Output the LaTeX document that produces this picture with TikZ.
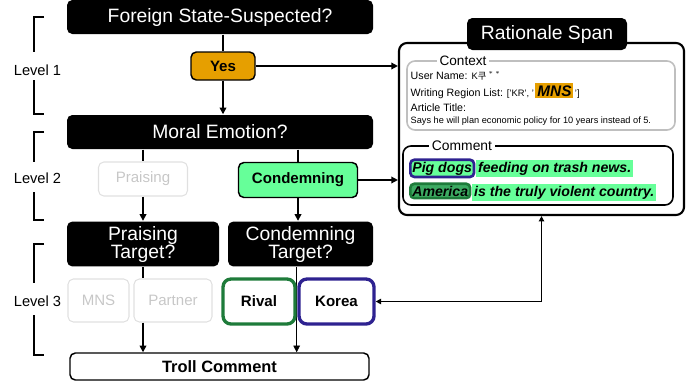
\documentclass[tikz,border=0pt]{standalone}
\usepackage{fontspec}
\setmainfont{Liberation Sans}
\newfontfamily\cjk{Noto Sans CJK KR}
\usetikzlibrary{positioning,arrows.meta,backgrounds}
\definecolor{yesorange}{HTML}{E69F00}
\definecolor{condgreen}{HTML}{66FF99}
\definecolor{rivalgreen}{HTML}{1E7B3A}
\definecolor{koreablue}{HTML}{2E2290}
\definecolor{amgreen}{HTML}{3DAA62}

\begin{document}
\begin{tikzpicture}[x=0.75pt, y=-0.75pt, line width=1.1pt, >={Triangle[length=5pt,width=5pt]},
  question/.style={fill=black, text=white, rounded corners=4pt, align=center, font=\fontsize{14.5}{13.5}\selectfont},
  answer/.style={draw=black, rounded corners=4pt, font=\fontsize{11.3}{13}\selectfont\bfseries},
  faded/.style={draw=black!12, text=black!22, rounded corners=4pt, line width=0.8pt, font=\fontsize{11.3}{13}\selectfont},
  level/.style={font=\fontsize{11}{13}\selectfont},
  ctx/.style={anchor=base west, inner sep=0pt, font=\fontsize{8}{10}\selectfont},
  hl/.style={fill=condgreen, inner sep=1.5pt, font=\fontsize{10.6}{13}\selectfont\bfseries\itshape}]
\useasboundingbox (0,0) rectangle (691,383);

% Level 1
\node[question, minimum width=229.5pt, minimum height=25.5pt] (q1) at (220,17) {Foreign State-Suspected?};
\node[answer, fill=yesorange, minimum width=48pt, minimum height=21pt] (yes) at (223,66) {Yes};

% Level 2
\node[question, minimum width=229.5pt, minimum height=25.5pt] (q2) at (220,132) {Moral Emotion?};
\node[faded, minimum width=66.75pt, minimum height=25.5pt] (praise) at (143,179) {Praising};
\node[answer, fill=condgreen, minimum width=89.25pt, minimum height=26.25pt] (condemn) at (298,180) {Condemning};

% Level 3
\node[question, minimum width=114pt, minimum height=33pt] (q3a) at (143,244) {Praising\\Target?};
\node[question, minimum width=108.75pt, minimum height=33pt] (q3b) at (300.5,244) {Condemning\\Target?};
\node[faded, minimum width=45.75pt, minimum height=32.25pt] (mns) at (98.5,300.5) {MNS};
\node[faded, minimum width=58.5pt, minimum height=32.25pt] (partner) at (173,300.5) {Partner};
\node[answer, draw=rivalgreen, line width=2.5pt, rounded corners=6pt, minimum width=54pt, minimum height=33.75pt] (rival) at (259,301.5) {Rival};
\node[answer, draw=koreablue, line width=2.5pt, rounded corners=6pt, minimum width=56.25pt, minimum height=33.75pt] (korea) at (336.5,301.5) {Korea};
\node[answer, fill=white, minimum width=224.25pt, minimum height=20.25pt, font=\fontsize{12.3}{14}\selectfont\bfseries] (troll) at (219.5,366.5) {Troll Comment};

% Level brackets
\node[level] (lv1) at (37.5,70) {Level 1};
\node[level] (lv2) at (37.5,178) {Level 2};
\node[level] (lv3) at (37.5,301) {Level 3};
\draw (44,17) -- (34,17) -- (34,52);
\draw (34,80) -- (34,114) -- (44,114);
\draw (44,132) -- (34,132) -- (34,162);
\draw (34,192) -- (34,220) -- (44,220);
\draw (44,244) -- (34,244) -- (34,283);
\draw (34,315) -- (34,355) -- (44,355);

% Rationale span
\node[draw=black, line width=1.6pt, rounded corners=6pt, minimum width=213.75pt, minimum height=129pt] (rationale) at (541.5,129) {};
\node[question, minimum width=120pt, minimum height=24pt] (title) at (547,34) {Rationale Span};
\node[draw=black!25, line width=1.2pt, rounded corners=6pt, minimum width=201pt, minimum height=51.75pt] (context) at (541,95.5) {};
\node[fill=white, inner sep=2pt, font=\fontsize{10.2}{12}\selectfont] (ctxlabel) at (463,61) {Context};
\node[draw=black, line width=1.2pt, rounded corners=6pt, minimum width=202.5pt, minimum height=44.25pt] (comment) at (538,175.5) {};
\node[fill=white, inner sep=2pt, font=\fontsize{10.4}{12}\selectfont] (cmtlabel) at (462,146) {Comment};

% Context text
\node[ctx] (user) at (410,79) {User Name: {\fontsize{7}{8}\selectfont K\cjk{쿠} $^{*\,*}$}};
\node[ctx] (region) at (410,96) {Writing Region List: {\fontsize{7}{8}\selectfont ['KR', '}};
\node[fill=yesorange, inner sep=1.5pt, anchor=base west, font=\fontsize{11.5}{13}\selectfont\bfseries\itshape] (mnshl) at (region.base east) {MNS};
\node[ctx, font=\fontsize{7}{8}\selectfont] (regend) at (mnshl.base east) {']};
\node[ctx] (article) at (410,111) {Article Title:};
\node[ctx, font=\fontsize{6.9}{8}\selectfont] (says) at (410,123) {Says he will plan economic policy for 10 years instead of 5.};

% Comment text
\node[hl, draw=koreablue, line width=2pt, rounded corners=3pt, anchor=base west] (pig) at (409,172) {Pig dogs};
\node[hl, anchor=base west] (line1) at (pig.base east) {feeding on trash news.};
\node[hl, fill=amgreen, draw=rivalgreen, line width=2pt, rounded corners=3pt, anchor=base west] (america) at (409,196) {America};
\node[hl, anchor=base west] (line2) at (america.base east) {is the truly violent country.};

% Arrows
\draw (yes.north |- q1.south) -- (yes.north);
\draw[->] (yes.south) -- (yes.south |- q2.north);
\draw[->] (yes.east) -- (yes.east -| rationale.west);
\draw (praise.north |- q2.south) -- (praise.north);
\draw[->] (praise.south) -- (praise.south |- q3a.north);
\draw (condemn.north |- q2.south) -- (condemn.north);
\draw[->] (condemn.south) -- (condemn.south |- q3b.north);
\draw[->] (condemn.east) -- (condemn.east -| rationale.west);
\draw (q3a.south) -- (q3a.south |- partner.north);
\draw[->] (q3a.south |- partner.south) -- (q3a.south |- troll.north);
\begin{scope}[on background layer]
\draw[->] (rival.east |- q3b.south) -- (rival.east |- troll.north);
\end{scope}
\draw[<->, >={Triangle[length=4pt,width=4pt]}] (korea.east) -| (rationale.south);

\end{tikzpicture}
\end{document}
